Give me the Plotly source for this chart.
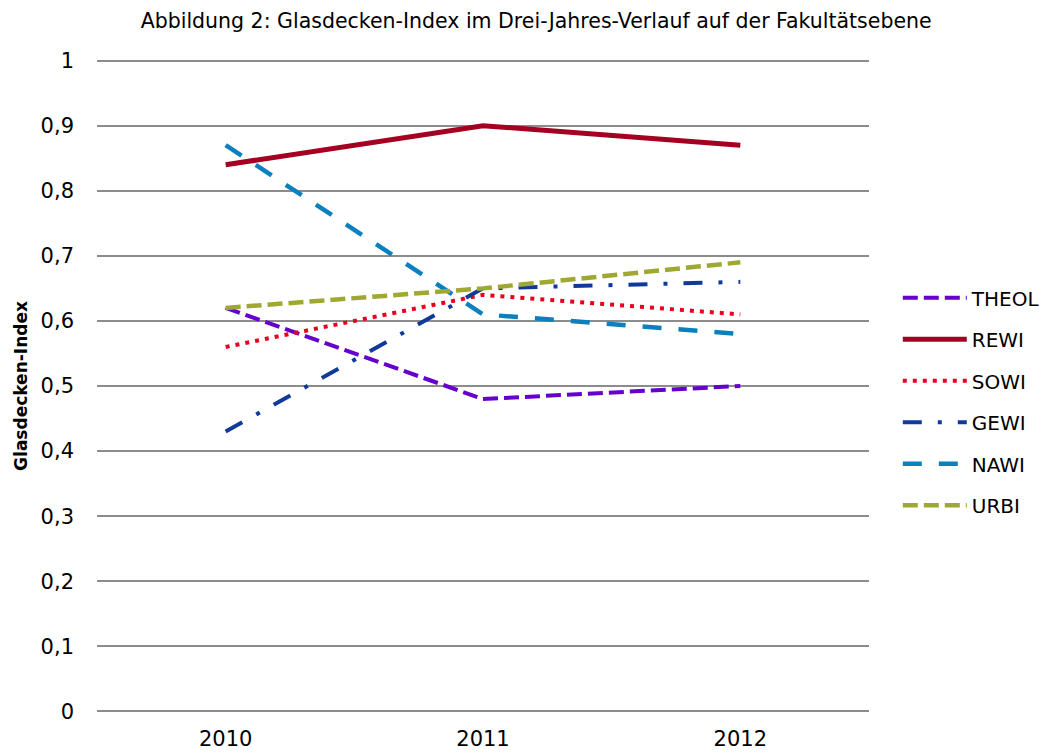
import plotly.graph_objects as go

years = ["2010", "2011", "2012"]
series_names = ["THEOL", "REWI", "SOWI", "GEWI", "NAWI", "URBI"]
theol = [0.62, 0.48, 0.50]
rewi = [0.84, 0.90, 0.87]
sowi = [0.56, 0.64, 0.61]
gewi = [0.43, 0.65, 0.66]
nawi = [0.87, 0.61, 0.58]
urbi = [0.62, 0.65, 0.69]
y_ticks = [0, 0.1, 0.2, 0.3, 0.4, 0.5, 0.6, 0.7, 0.8, 0.9, 1]
y_tick_labels = ["0", "0,1", "0,2", "0,3", "0,4", "0,5", "0,6", "0,7", "0,8", "0,9", "1"]

values = [theol, rewi, sowi, gewi, nawi, urbi]
colors = ["#6600CC", "#A50021", "#E8001C", "#103A9A", "#0A80BE", "#9EA832"]
dashes = ["15px,6px", "solid", "4px,6px", "19px,16px,4px,16px", "19px,17px", "15px,6px"]
widths = [4, 5, 4, 4, 4.5, 4.5]

FONT = "DejaVu Sans"

fig = go.Figure()
for i, (name, vals) in enumerate(zip(series_names, values)):
    fig.add_trace(go.Scatter(
        x=years, y=vals, name=name, mode="lines", legendgroup=name,
        line=dict(color=colors[i], dash=dashes[i], width=widths[i]),
    ))

fig.update_layout(
    width=1050, height=755,
    margin=dict(l=89, r=169, t=50, b=49),
    paper_bgcolor="white", plot_bgcolor="white",
    font=dict(family=FONT, size=20, color="#000000"),
    title=dict(text="Abbildung 2: Glasdecken-Index im Drei-Jahres-Verlauf auf der Fakultätsebene",
               x=0.503, xanchor="center", xref="container", y=0.9834, yref="container",
               yanchor="middle", font=dict(family=FONT, size=20.5, color="#000000")),
    xaxis=dict(type="category", range=[-0.5, 2.5], showgrid=False, showline=False,
               zeroline=False, ticks="", tickfont=dict(size=21), ticklabelstandoff=10),
    yaxis=dict(range=[-0.004, 1.004], tickvals=y_ticks, ticktext=y_tick_labels,
               showgrid=True, gridcolor="#8C8C8C", gridwidth=1.8, zeroline=False,
               showline=False, ticks="", tickfont=dict(size=21), ticklabelstandoff=22,
               title=dict(text="<b>Glasdecken-Index</b>", font=dict(size=17), standoff=8)),
    legend=dict(x=1.0373, xanchor="left", y=0.476, yanchor="middle",
                itemwidth=64, tracegroupgap=12.5, traceorder="grouped",
                font=dict(size=20), bgcolor="rgba(0,0,0,0)"),
    showlegend=True,
)

fig.write_html("out.html")
